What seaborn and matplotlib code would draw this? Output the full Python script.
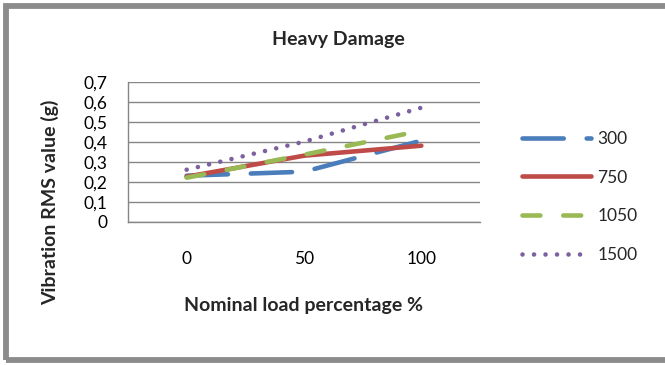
import matplotlib
matplotlib.use("Agg")
import matplotlib.pyplot as plt
import seaborn as sns
import pandas as pd
from matplotlib.lines import Line2D
from matplotlib.patches import Rectangle

# ---- data ----
loads = ["0", "50", "100"]
series_names = ["300", "750", "1050", "1500"]
s300 = [0.23, 0.25, 0.405]
s750 = [0.225, 0.33, 0.38]
s1050 = [0.22, 0.335, 0.455]
s1500 = [0.26, 0.40, 0.57]
yticks = [0, 0.1, 0.2, 0.3, 0.4, 0.5, 0.6, 0.7]
ytick_labels = ["0", "0,1", "0,2", "0,3", "0,4", "0,5", "0,6", "0,7"]

colors = ["#4A7EBB", "#BE4B48", "#98B954", "#7D60A0"]
dash_styles = [(9, 5), None, (3.9, 5), (0.01, 2.5)]
LW = 3.3
NUM_FS = 12.5
BOLD_FS = 14

sns.set_style("white")
plt.rcParams["font.family"] = ["Lato", "DejaVu Sans"]

fig = plt.figure(figsize=(6.65, 3.65), dpi=100)
ax = fig.add_axes([128 / 665, 1 - 221.7 / 365, (480 - 128) / 665, 140 / 365])

values = [s300, s750, s1050, s1500]
handles = []
for name, vals, c, d in zip(series_names, values, colors, dash_styles):
    df = pd.DataFrame({"load": list(range(len(loads))), "value": vals})
    sns.lineplot(data=df, x="load", y="value", ax=ax, color=c, linewidth=LW,
                 legend=False)
    ln = ax.lines[-1]
    ln.set_solid_capstyle("round")
    ln.set_dash_capstyle("round")
    ln.set_solid_joinstyle("round")
    if d is not None:
        ln.set_dashes(d)
    h = Line2D([0], [0], color=c, linewidth=LW, solid_capstyle="round",
               dash_capstyle="round")
    if d is not None:
        h.set_dashes(d)
    handles.append(h)

grid_c = "#868686"
ax.set_xlim(-0.5, 2.5)
ax.set_ylim(0, 0.7)
ax.set_yticks(yticks)
ax.set_yticklabels(ytick_labels)
ax.set_xticks(range(len(loads)))
ax.set_xticklabels(loads)
ax.set_xticks([-0.5, 0.5, 1.5, 2.5], minor=True)
ax.tick_params(axis="x", which="major", length=0, pad=21, labelsize=NUM_FS,
               colors="black")
ax.tick_params(axis="x", which="minor", length=5, width=1.0, color=grid_c,
               direction="out")
ax.tick_params(axis="y", length=5, width=1.0, color=grid_c, pad=10,
               labelsize=NUM_FS, labelcolor="black")
ax.grid(axis="y", color=grid_c, linewidth=1.0)
ax.grid(axis="x", visible=False)
ax.set_axisbelow(True)
for s in ["top", "right"]:
    ax.spines[s].set_visible(False)
for s in ["left", "bottom"]:
    ax.spines[s].set_color(grid_c)
    ax.spines[s].set_linewidth(1.0)
ax.set_xlabel("")
ax.set_ylabel("")

fig.text(338 / 665, 1 - 40 / 365, "Heavy Damage", ha="center", va="center",
         fontsize=BOLD_FS, fontweight="bold")
fig.text(304 / 665, 1 - 305 / 365, "Nominal load percentage %", ha="center",
         va="center", fontsize=BOLD_FS, fontweight="bold")
fig.text(50 / 665, 1 - 202 / 365, "Vibration RMS value (g)", ha="center",
         va="center", rotation=90, fontsize=BOLD_FS, fontweight="bold")

fig.legend(handles, series_names, loc="upper left",
           bbox_to_anchor=(522 / 665, 1 - 131 / 365), frameon=False,
           fontsize=NUM_FS, handlelength=4.0, handletextpad=0.35,
           labelspacing=1.3, borderpad=0, borderaxespad=0)

# outer border
fig.patches.append(Rectangle((6 / 665, 5.5 / 365), 1.0, 1 - 11.5 / 365,
                             transform=fig.transFigure, fill=False,
                             edgecolor="#8C8C8C", linewidth=4.2,
                             clip_on=False))

fig.savefig("out.png", dpi=100)
